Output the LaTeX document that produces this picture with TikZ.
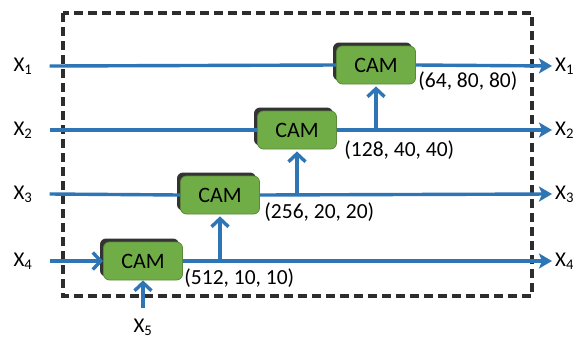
\documentclass[tikz,border=0pt]{standalone}
\usepackage{fontspec}
\setmainfont{Carlito}
\usetikzlibrary{arrows.meta, positioning, shadows}
\definecolor{camgreen}{RGB}{112,173,71}
\definecolor{flowblue}{RGB}{46,117,182}
\definecolor{framegray}{RGB}{45,45,45}

\begin{document}
\begin{tikzpicture}[
    x=1pt, y=-1pt,
    font=\fontsize{21}{24}\selectfont,
    cam/.style      = {rounded corners=6pt, minimum width=79pt, minimum height=38pt,
                       inner sep=0pt, fill=camgreen, draw=camgreen!80!black,
                       line width=0.8pt, font=\fontsize{22}{24}\selectfont,
                       drop shadow={shadow xshift=-3.5pt, shadow yshift=3.5pt,
                                    fill=black!80, opacity=1}},
    flow/.style     = {line width=3.4pt, color=flowblue},
    outarrow/.style = {flow, -{Stealth[length=13pt, width=15pt, inset=3pt]}},
    uparrow/.style  = {flow, -{Straight Barb[length=8pt, width=17pt]}},
    dim/.style      = {anchor=west, font=\fontsize{21.5}{24}\selectfont},
    var/.style      = {inner sep=3pt}
  ]
  \useasboundingbox (0,0) rectangle (573,338);

  % outer frame
  \draw[framegray, line width=3.2pt, dash pattern=on 9pt off 5pt]
    (63,13) rectangle (532,296);

  % attention modules
  \node[cam] (cam4) at (143,261) {CAM};
  \node[cam] (cam3) at (220,195) {CAM};
  \node[cam] (cam2) at (297,130) {CAM};
  \node[cam] (cam1) at (376,65)  {CAM};

  % inputs
  \node[var] (x1in) at (23,66)  {X\textsubscript{1}};
  \node[var] (x2in) at (23,130) {X\textsubscript{2}};
  \node[var] (x3in) at (23,194) {X\textsubscript{3}};
  \node[var] (x4in) at (23,261) {X\textsubscript{4}};
  \node[var] (x5in) at (143,327) {X\textsubscript{5}};

  % outputs
  \node[var, anchor=west] (x1out) at (552,66)  {X\textsubscript{1}};
  \node[var, anchor=west] (x2out) at (552,130) {X\textsubscript{2}};
  \node[var, anchor=west] (x3out) at (552,194) {X\textsubscript{3}};
  \node[var, anchor=west] (x4out) at (552,261) {X\textsubscript{4}};

  % feature sizes
  \node[dim, right=-1pt of cam1.south east, yshift=3pt] (d1) {(64, 80, 80)};
  \node[dim, right=4pt of cam2.south east, yshift=-1pt] (d2) {(128, 40, 40)};
  \node[dim, right=1pt of cam3.south east, yshift=2pt] (d3) {(256, 20, 20)};
  \node[dim, right=-2pt of cam4.south east, yshift=2pt] (d4) {(512, 10, 10)};

  \draw[flow] (x1in.east) ++(14pt,0) -- (cam1.west);
  \draw[flow] (x2in.east) ++(14pt,0) -- (cam2.west);
  \draw[flow] (x3in.east) ++(14pt,0) -- (cam3.west);
  \draw[uparrow] (x4in.east) ++(14pt,0) -- (cam4.west);
  \draw[uparrow, shorten <=7pt] (x5in.north) -- (cam4.south);

  \draw[outarrow] (cam1.east) -- (x1out.west);
  \draw[outarrow] (cam2.east) -- (x2out.west);
  \draw[outarrow] (cam3.east) -- (x3out.west);
  \draw[outarrow] (cam4.east) -- (x4out.west);

  \draw[uparrow, shorten >=2pt] (cam1.south |- cam2.east) -- (cam1.south);
  \draw[uparrow, shorten >=2pt] (cam2.south |- cam3.east) -- (cam2.south);
  \draw[uparrow, shorten >=2pt] (cam3.south |- cam4.east) -- (cam3.south);
\end{tikzpicture}
\end{document}
